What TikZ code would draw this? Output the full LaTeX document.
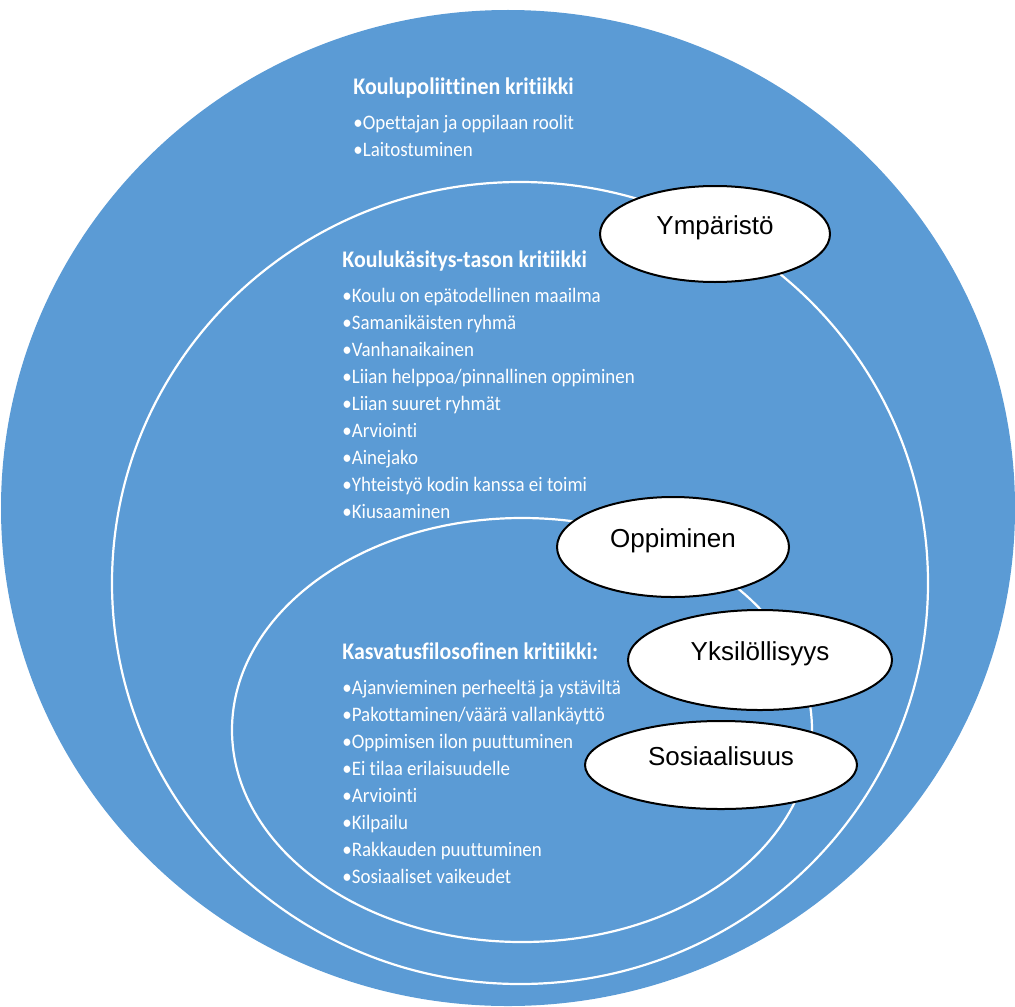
\documentclass[tikz,border=0pt]{standalone}
\usepackage{fontspec}
\setmainfont{Liberation Sans}
\newfontfamily\calib[Ligatures=NoCommon,RawFeature={-liga;-clig;-calt},FakeStretch=0.92]{Carlito}
\usetikzlibrary{shapes.geometric}
\definecolor{ringblue}{RGB}{91,155,213}
\tikzset{
  ring/.style={draw=white, line width=1.1pt},
  theme/.style={ellipse, draw=black, fill=white, line width=1pt, inner sep=0pt,
    font=\fontsize{13}{15}\selectfont, text height=6pt, text depth=6pt},
  crit/.style={text=white, align=left, anchor=north west, inner sep=0pt,
    font=\calib\fontsize{10.3}{13.5}\selectfont},
}
\newcommand{\crithead}[1]{{\fontsize{11.9}{13.5}\selectfont\bfseries #1}}
\begin{document}
\begin{tikzpicture}[x=0.5pt,y=-0.5pt]
	% Frame
	\useasboundingbox (0,0) rectangle (1015,1006);
	\clip (0,0) rectangle (1015,1006);
	
	% Rings
	\fill[ringblue] (508,508) ellipse [x radius=507, y radius=498];
	\draw[ring] (520,583) ellipse [x radius=408, y radius=401];
	\draw[ring] (522,730) ellipse [x radius=290, y radius=212];
	
	% Critique texts
	\node[crit] (politik) at (353,77) {\crithead{Koulupoliittinen kritiikki}\\[4pt]
		•Opettajan ja oppilaan roolit\\
		•Laitostuminen};
	\node[crit] (kasitys) at (342,250) {\crithead{Koulukäsitys-tason kritiikki}\\[4pt]
		•Koulu on epätodellinen maailma\\
		•Samanikäisten ryhmä\\
		•Vanhanaikainen\\
		•Liian helppoa/pinnallinen oppiminen\\
		•Liian suuret ryhmät\\
		•Arviointi\\
		•Ainejako\\
		•Yhteistyö kodin kanssa ei toimi\\
		•Kiusaaminen};
	\node[crit] (kasvatus) at (342,642) {\crithead{Kasvatusfilosofinen kritiikki:}\\[4pt]
		•Ajanvieminen perheeltä ja ystäviltä\\
		•Pakottaminen/väärä vallankäyttö\\
		•Oppimisen ilon puuttuminen\\
		•Ei tilaa erilaisuudelle\\
		•Arviointi\\
		•Kilpailu\\
		•Rakkauden puuttuminen\\
		•Sosiaaliset vaikeudet};
	
	% Themes
	\node[theme, minimum width=115pt, minimum height=48pt] (ymp) at (715,234) {Ympäristö};
	\node[theme, minimum width=116pt, minimum height=50pt] (opp) at (673,547) {Oppiminen};
	\node[theme, minimum width=132pt, minimum height=50pt] (yks) at (760,660) {Yksilöllisyys};
	\node[theme, minimum width=136pt, minimum height=44pt] (sos) at (721,765) {Sosiaalisuus};
\end{tikzpicture}
\end{document}
